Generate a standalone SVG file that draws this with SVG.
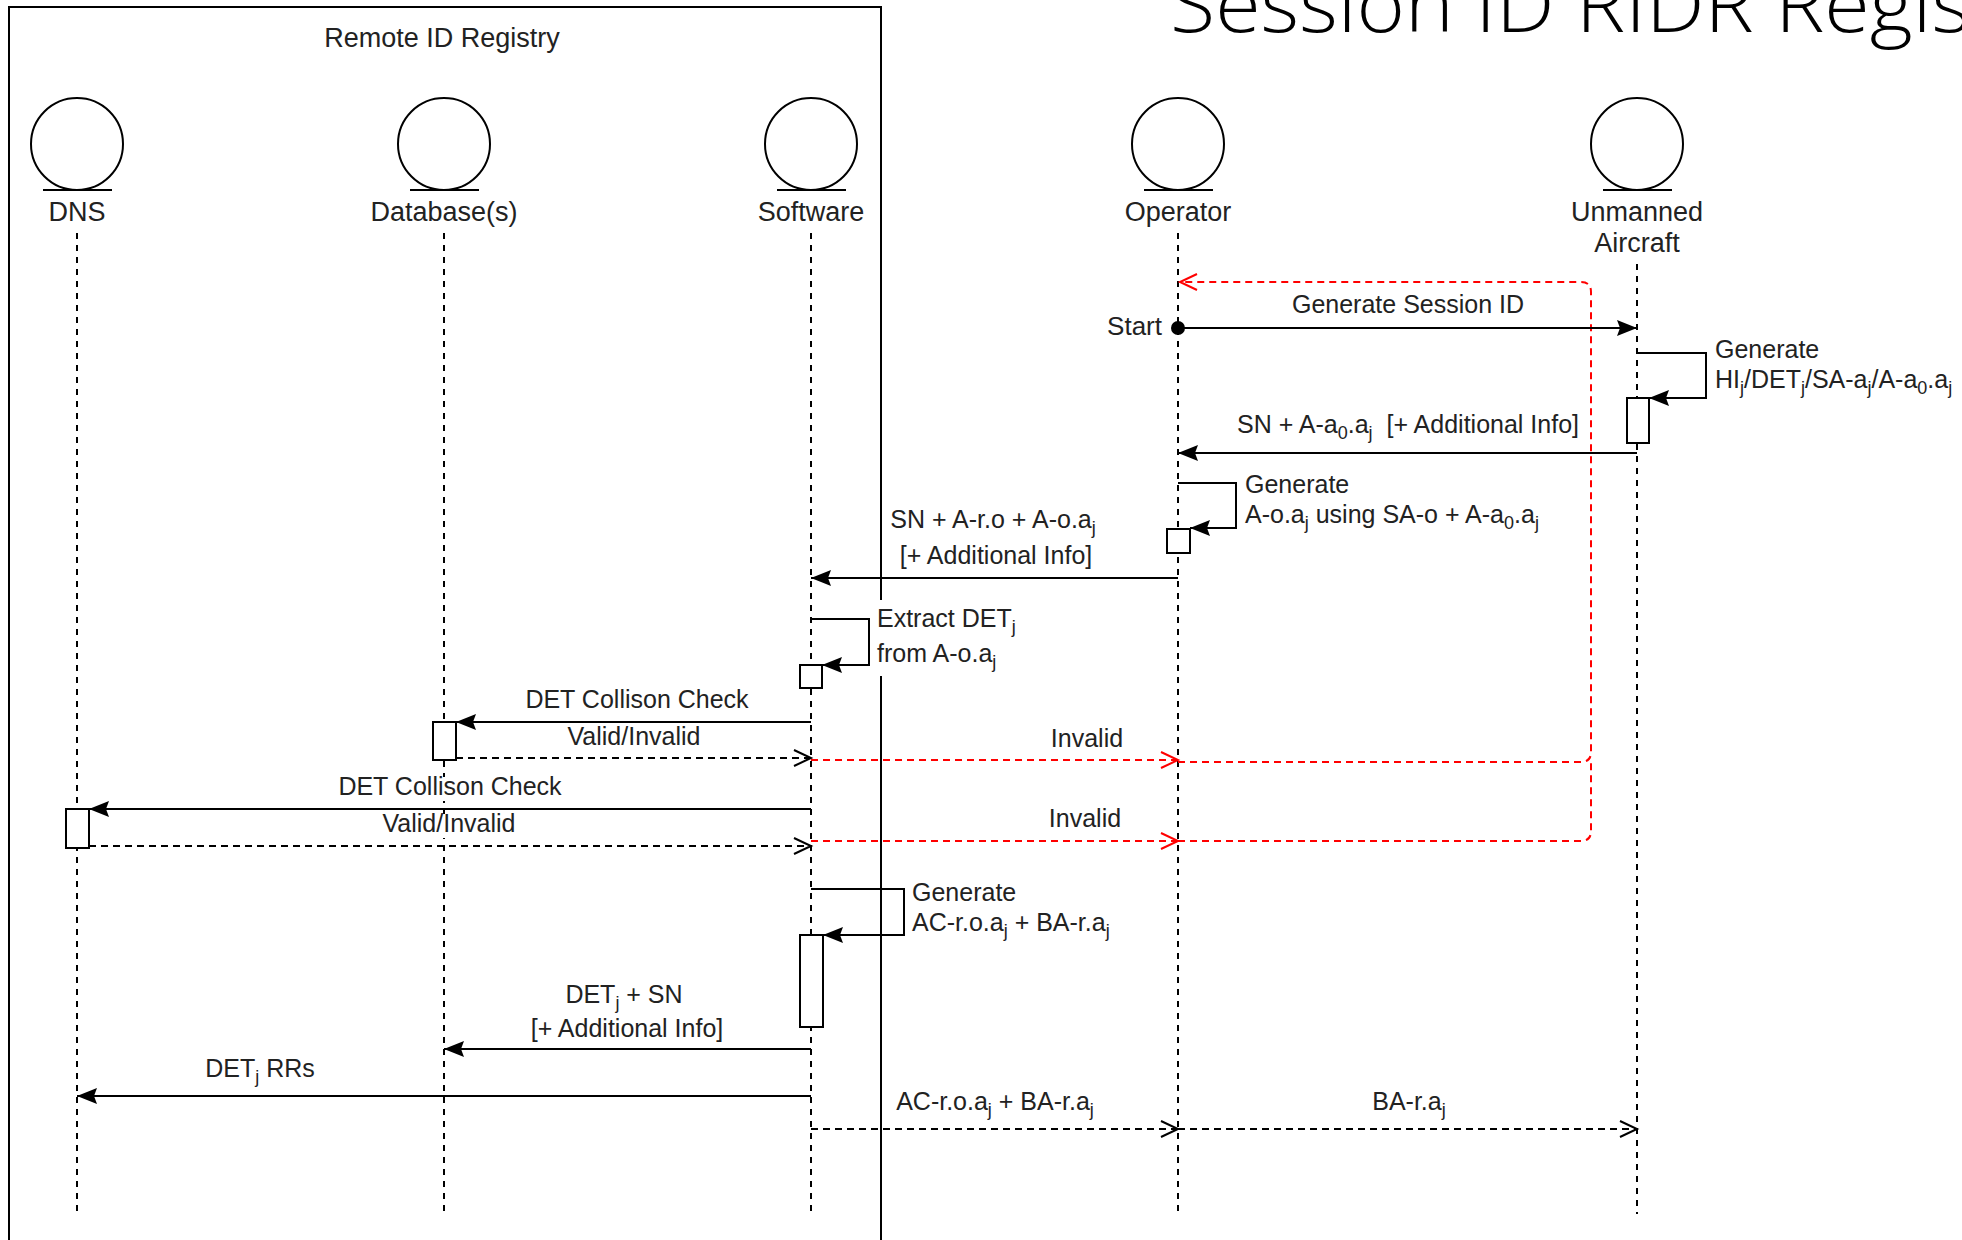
<svg xmlns="http://www.w3.org/2000/svg" width="1962" height="1240" viewBox="0 0 1962 1240">
<style>
text{font-family:"Liberation Sans",Arial,sans-serif;fill:#222;}
.actor{font-size:27px;text-anchor:middle;}
.lbl{font-size:25px;}
.mid{text-anchor:middle;}
.s{font-size:18px;}
.ent{fill:#fff;stroke:#000;stroke-width:2;}
.base{stroke:#000;stroke-width:2;}
.life{stroke:#000;stroke-width:2;stroke-dasharray:6 6;fill:none;}
.act{fill:#fff;stroke:#000;stroke-width:2;}
.msg{stroke:#000;stroke-width:2;fill:none;marker-end:url(#fa);}
.ret{stroke:#000;stroke-width:2;fill:none;stroke-dasharray:7 5;marker-end:url(#oa);}
.red{stroke:#ff0000;stroke-width:2;fill:none;stroke-dasharray:7 5;}
.bg{fill:#fff;stroke:none;}
.title{font-family:"Open Sans","Liberation Sans",sans-serif;font-weight:300;font-size:78px;fill:#000;}
</style>
<defs>
<marker id="fa" markerWidth="22" markerHeight="18" refX="20" refY="8" orient="auto" markerUnits="userSpaceOnUse">
<path d="M0,0 L20,8 L0,16 L3,8 Z" fill="#000" stroke="none"/>
</marker>
<marker id="oa" markerWidth="22" markerHeight="20" refX="19" refY="9" orient="auto" markerUnits="userSpaceOnUse">
<path d="M2,1 L19,9 L2,17" fill="none" stroke="#000" stroke-width="2" stroke-dasharray="none"/>
</marker>
<marker id="ra" markerWidth="22" markerHeight="20" refX="19" refY="9" orient="auto" markerUnits="userSpaceOnUse">
<path d="M2,1 L19,9 L2,17" fill="none" stroke="#ff0000" stroke-width="2" stroke-dasharray="none"/>
</marker>
</defs>
<rect width="1962" height="1240" fill="#fff"/>
<text class="title" x="1170" y="32" textLength="800" lengthAdjust="spacingAndGlyphs">Session ID RIDR Regis</text>

<g id="registry">
<rect x="9" y="7" width="872" height="1260" fill="none" stroke="#000" stroke-width="2"/>
<text class="actor" x="442" y="47">Remote ID Registry</text>
</g>

<g id="dns">
<circle class="ent" cx="77" cy="144" r="46"/>
<line class="base" x1="43" y1="190" x2="112" y2="190"/>
<text class="actor" x="77" y="221">DNS</text>
<line class="life" x1="77" y1="233" x2="77" y2="1214"/>
</g>
<g id="database">
<circle class="ent" cx="444" cy="144" r="46"/>
<line class="base" x1="410" y1="190" x2="479" y2="190"/>
<text class="actor" x="444" y="221">Database(s)</text>
<line class="life" x1="444" y1="233" x2="444" y2="1214"/>
</g>
<g id="software">
<circle class="ent" cx="811" cy="144" r="46"/>
<line class="base" x1="777" y1="190" x2="846" y2="190"/>
<text class="actor" x="811" y="221">Software</text>
<line class="life" x1="811" y1="233" x2="811" y2="1214"/>
</g>
<g id="operator">
<circle class="ent" cx="1178" cy="144" r="46"/>
<line class="base" x1="1144" y1="190" x2="1213" y2="190"/>
<text class="actor" x="1178" y="221">Operator</text>
<line class="life" x1="1178" y1="233" x2="1178" y2="1214"/>
</g>
<g id="aircraft">
<circle class="ent" cx="1637" cy="144" r="46"/>
<line class="base" x1="1603" y1="190" x2="1672" y2="190"/>
<text class="actor" x="1637" y="221">Unmanned</text>
<text class="actor" x="1637" y="252">Aircraft</text>
<line class="life" x1="1637" y1="264" x2="1637" y2="1214"/>
</g>

<g id="activations">
<rect id="act-ua" class="act" x="1627" y="398" width="22" height="45"/>
<rect id="act-op" class="act" x="1167" y="529" width="23" height="24"/>
<rect id="act-sw1" class="act" x="800" y="665" width="22" height="23"/>
<rect id="act-db" class="act" x="433" y="722" width="23" height="38"/>
<rect id="act-dns" class="act" x="66" y="809" width="23" height="39"/>
<rect id="act-sw2" class="act" x="800" y="935" width="23" height="92"/>
</g>

<g id="connectors">
<path class="red" d="M1178,762 H1581 Q1591,762 1591,752 V292 Q1591,282 1581,282 H1180" marker-end="url(#ra)"/>
<path class="red" d="M1178,841 H1581 Q1591,841 1591,831 V760"/>
<line class="red" x1="811" y1="760" x2="1178" y2="760" marker-end="url(#ra)"/>
<line class="red" x1="811" y1="841" x2="1178" y2="841" marker-end="url(#ra)"/>

<circle cx="1178" cy="328" r="7" fill="#000"/>
<line class="msg" x1="1178" y1="328" x2="1637" y2="328"/>
<path class="msg" d="M1637,353 H1706 V398 H1649"/>
<line class="msg" x1="1637" y1="453" x2="1178" y2="453"/>
<path class="msg" d="M1178,483 H1236 V528 H1190"/>
<line class="msg" x1="1178" y1="578" x2="811" y2="578"/>
<path class="msg" d="M811,619 H869 V665 H822"/>
<line class="msg" x1="811" y1="722" x2="456" y2="722"/>
<line class="ret" x1="456" y1="758" x2="811" y2="758"/>
<line class="msg" x1="811" y1="809" x2="89" y2="809"/>
<line class="ret" x1="89" y1="846" x2="811" y2="846"/>
<path class="msg" d="M811,889 H904 V935 H823"/>
<line class="msg" x1="811" y1="1049" x2="444" y2="1049"/>
<line class="msg" x1="811" y1="1096" x2="77" y2="1096"/>
<line class="ret" x1="811" y1="1129" x2="1178" y2="1129"/>
<line class="ret" x1="1178" y1="1129" x2="1637" y2="1129"/>
</g>

<g id="labels">
<text class="lbl" x="1162" y="335" text-anchor="end" style="font-size:26px">Start</text>
<text class="lbl mid" x="1408" y="313">Generate Session ID</text>
<text class="lbl" x="1715" y="358">Generate</text>
<text class="lbl" x="1715" y="388">HI<tspan class="s" dy="6">j</tspan><tspan dy="-6">/DET</tspan><tspan class="s" dy="6">j</tspan><tspan dy="-6">/SA-a</tspan><tspan class="s" dy="6">j</tspan><tspan dy="-6">/A-a</tspan><tspan class="s" dy="6">0</tspan><tspan dy="-6">.a</tspan><tspan class="s" dy="6">j</tspan></text>
<text class="lbl mid" x="1408" y="433" xml:space="preserve">SN + A-a<tspan class="s" dy="6">0</tspan><tspan dy="-6">.a</tspan><tspan class="s" dy="6">j</tspan><tspan dy="-6">  [+ Additional Info]</tspan></text>
<text class="lbl" x="1245" y="493">Generate</text>
<text class="lbl" x="1245" y="523">A-o.a<tspan class="s" dy="6">j</tspan><tspan dy="-6"> using SA-o + A-a</tspan><tspan class="s" dy="6">0</tspan><tspan dy="-6">.a</tspan><tspan class="s" dy="6">j</tspan></text>
<text class="lbl mid" x="993" y="528">SN + A-r.o + A-o.a<tspan class="s" dy="6">j</tspan></text>
<text class="lbl mid" x="996" y="564">[+ Additional Info]</text>
<rect class="bg" x="874" y="600" width="150" height="76"/>
<text class="lbl" x="877" y="627">Extract DET<tspan class="s" dy="6">j</tspan></text>
<text class="lbl" x="877" y="662">from A-o.a<tspan class="s" dy="6">j</tspan></text>
<text class="lbl mid" x="637" y="708">DET Collison Check</text>
<text class="lbl mid" x="634" y="745">Valid/Invalid</text>
<rect class="bg" x="336" y="777" width="228" height="24"/>
<text class="lbl mid" x="450" y="795">DET Collison Check</text>
<rect class="bg" x="380" y="814" width="138" height="24"/>
<text class="lbl mid" x="449" y="832">Valid/Invalid</text>
<text class="lbl mid" x="1087" y="747">Invalid</text>
<text class="lbl mid" x="1085" y="827">Invalid</text>
<text class="lbl" x="912" y="901">Generate</text>
<text class="lbl" x="912" y="931">AC-r.o.a<tspan class="s" dy="6">j</tspan><tspan dy="-6"> + BA-r.a</tspan><tspan class="s" dy="6">j</tspan></text>
<text class="lbl mid" x="624" y="1003">DET<tspan class="s" dy="6">j</tspan><tspan dy="-6"> + SN</tspan></text>
<text class="lbl mid" x="627" y="1037">[+ Additional Info]</text>
<text class="lbl mid" x="260" y="1077">DET<tspan class="s" dy="6">j</tspan><tspan dy="-6"> RRs</tspan></text>
<text class="lbl mid" x="995" y="1110">AC-r.o.a<tspan class="s" dy="6">j</tspan><tspan dy="-6"> + BA-r.a</tspan><tspan class="s" dy="6">j</tspan></text>
<text class="lbl mid" x="1409" y="1110">BA-r.a<tspan class="s" dy="6">j</tspan></text>
</g>
</svg>
